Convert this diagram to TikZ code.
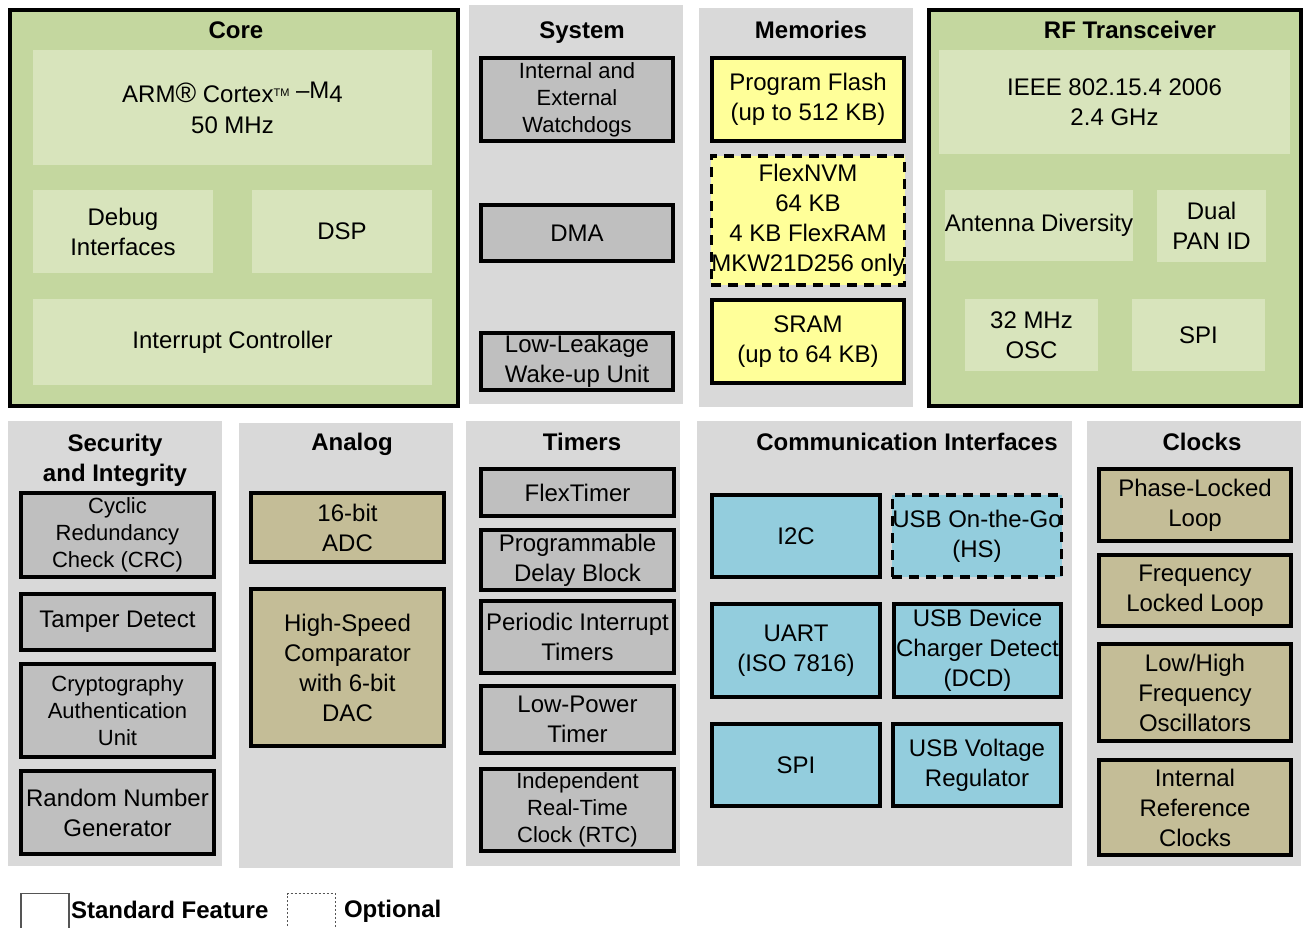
\documentclass[tikz,border=0pt]{standalone}
\usepackage{fontspec}
\setmainfont{Liberation Sans}
\definecolor{coregreen}{HTML}{C4D79F}
\definecolor{innergreen}{HTML}{D8E4BC}
\definecolor{panelgray}{HTML}{D9D9D9}
\definecolor{boxgray}{HTML}{BFBFBF}
\definecolor{memyellow}{HTML}{FFFF99}
\definecolor{tan}{HTML}{C4BD97}
\definecolor{commblue}{HTML}{93CDDD}
\definecolor{legendline}{HTML}{555555}
\tikzset{
  every node/.style={inner sep=0pt, outer sep=0pt, align=center, font=\fontsize{24}{30}\selectfont},
  panel/.style={fill=panelgray},
  corepanel/.style={draw=black, line width=3.5pt, fill=coregreen},
  inner/.style={fill=innergreen},
  graybox/.style={draw=black, line width=3.5pt, fill=boxgray},
  yellowbox/.style={draw=black, line width=3.5pt, fill=memyellow},
  tanbox/.style={draw=black, line width=3.5pt, fill=tan},
  bluebox/.style={draw=black, line width=3.5pt, fill=commblue},
  optional/.style={dash pattern=on 10pt off 7pt},
  small/.style={font=\fontsize{22}{27}\selectfont},
  title/.style={font=\bfseries\fontsize{24}{30}\selectfont, anchor=base},
  legendtext/.style={font=\bfseries\fontsize{24}{30}\selectfont, anchor=west},
}
\newcommand{\blk}[7]{\node[#1, minimum width={#5-#3}, minimum height={#6-#4}] (#2) at ({(#3+#5)/2},{(#4+#6)/2}) {#7};}
\begin{document}
\begin{tikzpicture}[x=1pt, y=-1pt]
\useasboundingbox (0,0) rectangle (1306,928);
\fill[white] (0,0) rectangle (1306,928);

% ---------- top row ----------
\blk{corepanel}{core}{10}{10}{458}{406}{}
\node[title] (coret) at (236,39) {Core};
\blk{inner}{arm}{33}{50}{432}{165}{ARM{\fontsize{28}{30}\selectfont ®} Cortex{\fontsize{11}{11}\selectfont\raisebox{6pt}{TM}} \raisebox{4pt}{–M}4\\[1pt]50 MHz}
\blk{inner}{debug}{33}{190}{213}{273}{Debug\\Interfaces}
\blk{inner}{dsp}{252}{190}{432}{273}{DSP}
\blk{inner}{intc}{33}{299}{432}{385}{Interrupt Controller}

\fill[panel] (469,5) rectangle (683,404);
\node[title] (syst) at (582,39) {System};
\blk{graybox,small}{wdog}{481}{58}{673}{141}{Internal and\\External\\Watchdogs}
\blk{graybox}{dma}{481}{205}{673}{261}{DMA}
\blk{graybox}{llwu}{481}{333}{673}{390}{Low-Leakage\\Wake-up Unit}

\fill[panel] (699,8) rectangle (913,407);
\node[title] (memt) at (811,39) {Memories};
\blk{yellowbox}{pflash}{712}{58}{904}{141}{Program Flash\\(up to 512 KB)}
\blk{yellowbox,optional}{flexnvm}{712}{156}{904}{285}{FlexNVM\\64 KB\\4 KB FlexRAM\\MKW21D256 only}
\blk{yellowbox}{sram}{712}{300}{904}{383}{SRAM\\(up to 64 KB)}

\blk{corepanel}{rf}{929}{10}{1301}{406}{}
\node[title] (rft) at (1130,39) {RF Transceiver};
\blk{inner}{ieee}{939}{50}{1290}{154}{IEEE 802.15.4 2006\\2.4 GHz}
\blk{inner}{ant}{947}{190}{1131}{261}{Antenna Diversity}
\blk{inner}{pan}{1157}{190}{1266}{262}{Dual\\PAN ID}
\blk{inner}{osc}{965}{299}{1098}{371}{32 MHz\\OSC}
\blk{inner}{rfspi}{1132}{299}{1265}{371}{SPI}

% ---------- bottom row ----------
\fill[panel] (8,421) rectangle (222,866);
\node[title, anchor=center] (sect) at (115,460) {Security\\and Integrity};
\blk{graybox,small}{crc}{21}{493}{214}{577}{Cyclic\\Redundancy\\Check (CRC)}
\blk{graybox}{tamper}{21}{594}{214}{650}{Tamper Detect}
\blk{graybox,small}{crypto}{21}{664}{214}{757}{Cryptography\\Authentication\\Unit}
\blk{graybox}{rng}{21}{771}{214}{854}{Random Number\\Generator}

\fill[panel] (239,423) rectangle (453,868);
\node[title] (anat) at (352,450) {Analog};
\blk{tanbox}{adc}{251}{493}{444}{562}{16-bit\\ADC}
\blk{tanbox}{hsc}{251}{589}{444}{746}{High-Speed\\Comparator\\with 6-bit\\DAC}

\fill[panel] (466,421) rectangle (680,866);
\node[title] (timt) at (582,450) {Timers};
\blk{graybox}{ftm}{481}{469}{674}{516}{FlexTimer}
\blk{graybox}{pdb}{481}{530}{674}{590}{Programmable\\Delay Block}
\blk{graybox}{pit}{481}{601}{674}{673}{Periodic Interrupt\\Timers}
\blk{graybox}{lpt}{481}{686}{674}{753}{Low-Power\\Timer}
\blk{graybox,small}{rtc}{481}{769}{674}{851}{Independent\\Real-Time\\Clock (RTC)}

\fill[panel] (697,421) rectangle (1072,866);
\node[title] (comt) at (907,450) {Communication Interfaces};
\blk{bluebox}{i2c}{712}{495}{880}{577}{I2C}
\blk{bluebox,optional}{otg}{894}{495}{1060}{577}{USB On-the-Go\\(HS)}
\blk{bluebox}{uart}{712}{604}{880}{697}{UART\\(ISO 7816)}
\blk{bluebox}{dcd}{894}{604}{1061}{697}{USB Device\\Charger Detect\\(DCD)}
\blk{bluebox}{cspi}{712}{724}{880}{806}{SPI}
\blk{bluebox}{vreg}{893}{724}{1061}{806}{USB Voltage\\Regulator}

\fill[panel] (1087,421) rectangle (1301,866);
\node[title] (clkt) at (1202,450) {Clocks};
\blk{tanbox}{pll}{1099}{469}{1291}{541}{Phase-Locked\\Loop}
\blk{tanbox}{fll}{1099}{555}{1291}{626}{Frequency\\Locked Loop}
\blk{tanbox}{lhf}{1099}{644}{1291}{741}{Low/High\\Frequency\\Oscillators}
\blk{tanbox}{irc}{1099}{760}{1291}{855}{Internal\\Reference\\Clocks}

% ---------- legend ----------
\draw[legendline, line width=1.5pt] (21,930) -- (21,893.5) -- (69,893.5) -- (69,930);
\node[legendtext] (stdl) at (71,910) {Standard Feature};
\draw[legendline, line width=1pt, dash pattern=on 2pt off 2pt] (287,930) -- (287,893.5) -- (335,893.5) -- (335,930);
\node[legendtext] (optl) at (344,911) {Optional};
\end{tikzpicture}
\end{document}
